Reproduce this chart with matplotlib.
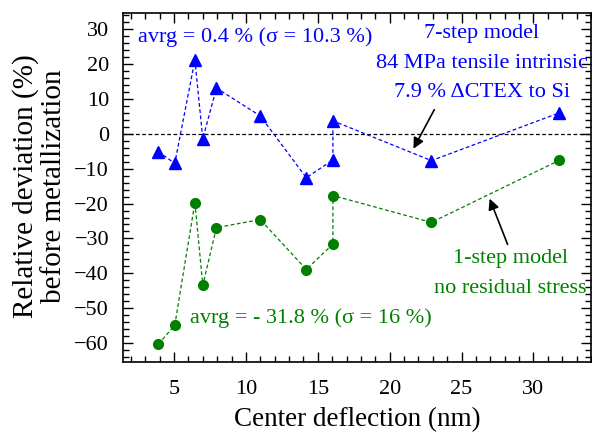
import matplotlib
matplotlib.use("Agg")
import matplotlib.pyplot as plt
from matplotlib.ticker import MultipleLocator

plt.rcParams['font.family'] = ['Liberation Serif', 'DejaVu Serif']
plt.rcParams['mathtext.fontset'] = 'stix'

# Data
deflection = [3.9, 5.05, 6.45, 7.0, 7.95, 11.0, 14.2, 16.05, 16.05, 22.9, 31.8]
seven_step = [-5.1, -8.5, 21.1, -1.4, 13.1, 5.1, -12.6, -7.5, 3.7, -7.7, 6.0]
one_step = [-60.3, -54.9, -19.7, -43.4, -26.9, -24.6, -38.9, -31.6, -17.7, -25.4, -7.6]

xticks = [5, 10, 15, 20, 25, 30]
yticks = [30, 20, 10, 0, -10, -20, -30, -40, -50, -60]

blue = '#0000ff'
green = '#008000'

fig = plt.figure(figsize=(5.92, 4.37), dpi=100)
ax = fig.add_axes([123/592, 75/437, (591-123)/592, (362-13)/437])

ax.axhline(0, color='black', ls=(0, (3, 2)), lw=0.9, zorder=1)
ax.plot(deflection, seven_step, ls=(0, (3, 2)), lw=0.9, color=blue,
        marker='^', ms=8, zorder=3)
ax.plot(deflection, one_step, ls=(0, (3, 2)), lw=0.9, color=green,
        marker='o', ms=7, zorder=3)

ax.set_xlim(1.45, 34.0)
ax.set_ylim(-65.4, 34.6)
ax.set_xticks(xticks)
ax.set_yticks(yticks)
ax.xaxis.set_minor_locator(MultipleLocator(1))
ax.yaxis.set_minor_locator(MultipleLocator(2))
ax.tick_params(which='both', direction='in', top=True, right=True,
               labelsize=16, width=1)
ax.tick_params(which='major', length=7)
ax.tick_params(axis='x', which='major', pad=13)
ax.tick_params(axis='y', which='major', pad=10)
ax.tick_params(which='minor', length=4)
for s in ax.spines.values():
    s.set_linewidth(1.2)

ax.set_xlabel('Center deflection (nm)', fontsize=19.5, labelpad=6)
fig.text(40/592, 1 - 186/437, 'Relative deviation (%)\nbefore metallization',
         rotation=90, ha='center', va='center', fontsize=21, linespacing=1.1)

ax.text(2.48, 27.7, 'avrg = 0.4 % (σ = 10.3 %)', color=blue, fontsize=16,
        ha='left', va='center')
ax.text(26.4, 28.65, '7-step model', color=blue, fontsize=16,
        ha='center', va='center')
ax.text(26.4, 20.06, '84 MPa tensile intrinsic', color=blue, fontsize=16,
        ha='center', va='center')
ax.text(26.4, 11.75, '7.9 % ΔCTEX to Si', color=blue, fontsize=16,
        ha='center', va='center')
ax.text(28.4, -35.8, '1-step model', color=green, fontsize=16,
        ha='center', va='center')
ax.text(28.4, -44.4, 'no residual stress', color=green, fontsize=16,
        ha='center', va='center')
ax.text(6.1, -52.9, 'avrg = - 31.8 % (σ = 16 %)', color=green, fontsize=16,
        ha='left', va='center')

ax.annotate('', xy=(21.65, -4.3), xytext=(23.1, 6.9),
            arrowprops=dict(arrowstyle='-|>', color='black', lw=1.2,
                            mutation_scale=16, shrinkA=0, shrinkB=0))
ax.annotate('', xy=(26.95, -18.6), xytext=(28.2, -31.7),
            arrowprops=dict(arrowstyle='-|>', color='black', lw=1.2,
                            mutation_scale=16, shrinkA=0, shrinkB=0))

fig.savefig('out.png', dpi=100)
